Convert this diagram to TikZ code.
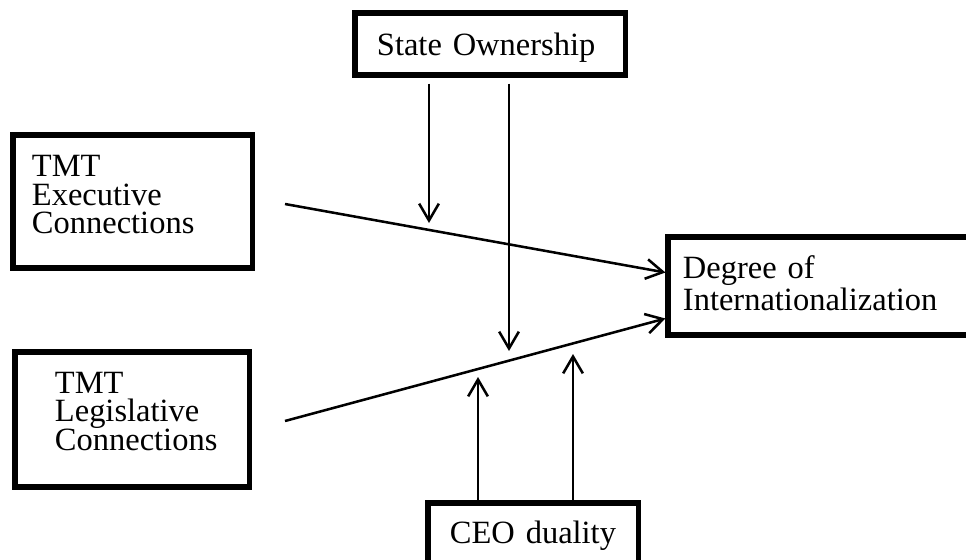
\documentclass[tikz,border=0pt]{standalone}
\usepackage{fontspec}
\setmainfont{Liberation Serif}
\usetikzlibrary{arrows.meta,calc}
\tikzset{
  varbox/.style n args={3}{draw, line width=3.6pt, align=left, inner ysep=0pt,
        inner xsep=#3, text width=#1-2*#3, minimum width=#1, minimum height=#2,
        font=\fontsize{23.1pt}{20.3pt}\selectfont},
  lnk/.style={-{Straight Barb[length=12pt,width=14pt]}, line width=1.8pt},
}
\begin{document}
\begin{tikzpicture}[x=0.025cm, y=-0.025cm]
  \useasboundingbox (0,0) rectangle (966,559);
  \node[varbox={6.75cm}{1.55cm}{0.55cm}, text depth=0pt] (so) at (490,44){State Ownership};
  \node[varbox={5.975cm}{3.325cm}{0.475cm}, text depth=1.78cm] (ex) at (132.5,201.5)
       {TMT\\Executive\\Connections};
  \node[varbox={5.85cm}{3.375cm}{1cm}, text depth=1.84cm] (lg) at (132,419.5)
       {TMT\\Legislative\\Connections};
  \node[varbox={7.675cm}{2.45cm}{0.375cm}, text depth=0.94cm,
        font=\fontsize{23.1pt}{22.7pt}\selectfont] (dg) at (821.5,286)
       {Degree of\\Internationalization};
  \node[varbox={5.25cm}{1.625cm}{0.55cm}] (ceo) at (533,535.5){CEO duality};
  % free ends of the lines
  \coordinate (exS) at (285,204);
  \coordinate (lgS) at (285,421);
  \coordinate (m1) at (429,223);
  \coordinate (m2) at (509,351);
  \coordinate (m3) at (478,377);
  \coordinate (m4) at (573,354);
  \draw[lnk] (exS) -- ($(dg.west)+(0,-13.5)$);
  \draw[lnk] (lgS) -- ($(dg.west)+(0,32.5)$);
  % moderators
  \draw[lnk, shorten <=0.15cm] (m1 |- so.south) -- (m1);
  \draw[lnk, shorten <=0.15cm] (m2 |- so.south) -- (m2);
  \draw[lnk] (m3 |- ceo.north) -- (m3);
  \draw[lnk] (m4 |- ceo.north) -- (m4);
\end{tikzpicture}
\end{document}
